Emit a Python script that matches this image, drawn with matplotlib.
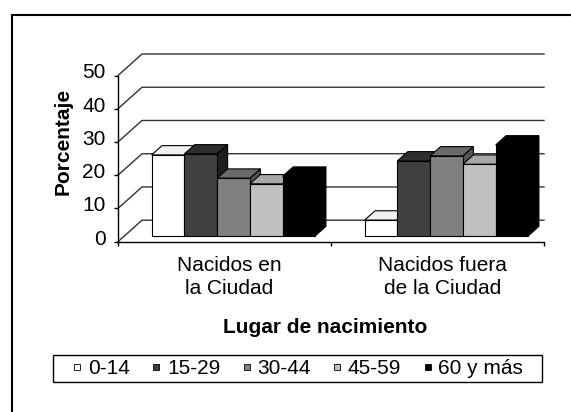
import matplotlib.pyplot as plt
from matplotlib.patches import Polygon, Rectangle
from matplotlib.lines import Line2D
from matplotlib.transforms import ScaledTranslation

# datos (porcentaje por grupo de edad)
categorias = ["Nacidos en\nla Ciudad", "Nacidos fuera\nde la Ciudad"]
grupos = ["0-14", "15-29", "30-44", "45-59", "60 y más"]
nacidos_en = [24.3, 24.6, 17.3, 15.6, 17.9]
nacidos_fuera = [4.7, 22.5, 24.0, 21.5, 27.3]
valores = [nacidos_en, nacidos_fuera]

colores = ["#ffffff", "#404040", "#808080", "#c0c0c0", "#000000"]
colores_top = ["#f0f0f0", "#2e2e2e", "#6a6a6a", "#a8a8a8", "#000000"]
colores_lado = ["#d8d8d8", "#1e1e1e", "#555555", "#999999", "#000000"]

plt.rcParams['font.family'] = ['Liberation Sans', 'DejaVu Sans']
FS = 15

W, H = 571, 412
fig = plt.figure(figsize=(W / 100, H / 100), dpi=100)

# marco exterior (solo se ven lados izquierdo y superior)
fig.add_artist(Rectangle((11.5 / W, -0.1), 2, 1.1 - 15 / H, transform=fig.transFigure,
                         fill=False, edgecolor="black", lw=1.5))

# plano frontal del grafico 3D
x0, x1, y0, y1 = 118, 544, 241.7, 75.5
ax = fig.add_axes([x0 / W, 1 - y0 / H, (x1 - x0) / W, (y0 - y1) / H])
ax.set_xlim(0, 2)
ax.set_ylim(0, 50)
ax.patch.set_visible(False)
for s in ["top", "right"]:
    ax.spines[s].set_visible(False)
for s in ["left", "bottom"]:
    ax.spines[s].set_linewidth(1.0)

ppx = (x1 - x0) / 2
ppy = (y0 - y1) / 50
DX, DY = 24 / ppx, 21.5 / ppy

# pared del fondo y pared izquierda
for v in range(0, 51, 10):
    ax.plot([0, DX, 2], [v, v + DY, v + DY], color="#333333", lw=1.0,
            clip_on=False, zorder=1)

# barras
w = 1 / 6.5
fx, fy = 9 / ppx, 6 / ppy
bdx, bdy = 10.5 / ppx, 9.3 / ppy
for i, vals in enumerate(valores):
    inicio = i + 0.75 * w
    for j, v in enumerate(vals):
        xl = inicio + j * w + fx
        xr = xl + w
        top = fy + v
        z = 3 + j * 0.1
        ax.add_patch(Polygon([(xr, fy), (xr + bdx, fy + bdy), (xr + bdx, top + bdy), (xr, top)],
                             closed=True, facecolor=colores_lado[j], edgecolor="black",
                             lw=0.8, clip_on=False, zorder=z))
        ax.add_patch(Polygon([(xl, top), (xl + bdx, top + bdy), (xr + bdx, top + bdy), (xr, top)],
                             closed=True, facecolor=colores_top[j], edgecolor="black",
                             lw=0.8, clip_on=False, zorder=z))
        ax.bar(xl, v, width=w, bottom=fy, align="edge", color=colores[j],
               edgecolor="black", lw=0.8, clip_on=False, zorder=z + 0.05)

# ejes
ax.set_yticks(range(0, 51, 10))
ax.tick_params(axis="y", length=3, width=1, labelsize=FS, pad=6)
ax.set_xticks([0, 1, 2])
ax.set_xticklabels([])
ax.tick_params(axis="x", which="major", length=3, width=1)
ax.set_xticks([0.5, 1.5], minor=True)
ax.set_xticklabels(categorias, minor=True, fontsize=FS, linespacing=1.25)
ax.tick_params(axis="x", which="minor", length=0, pad=10.5)

for lbl in ax.get_xticklabels(minor=True):
    lbl.set_transform(lbl.get_transform() + ScaledTranslation(5 / 100, 0, fig.dpi_scale_trans))
for lbl in ax.get_yticklabels():
    lbl.set_transform(lbl.get_transform() + ScaledTranslation(0, 4.5 / 100, fig.dpi_scale_trans))

ax.set_xlabel("Lugar de nacimiento", fontsize=FS, fontweight="bold", va="center")
ax.xaxis.set_label_coords((325 - x0) / (x1 - x0), (y0 - 328) / (y0 - y1))
ax.set_ylabel("Porcentaje", fontsize=FS, fontweight="bold", va="center")
ax.yaxis.set_label_coords((63 - x0) / (x1 - x0), (y0 - 141) / (y0 - y1))

# leyenda
fig.add_artist(Rectangle((53.3 / W, 1 - 382.3 / H), (541.7 - 53.3) / W, 27.3 / H,
                         transform=fig.transFigure, fill=False, edgecolor="black", lw=1.0))
handles = [Line2D([], [], marker="s", linestyle="none", markersize=4.5,
                  markerfacecolor=c, markeredgecolor="black", markeredgewidth=0.6)
           for c in colores]
fig.legend(handles, grupos, loc="center", bbox_to_anchor=(298 / W, 1 - 368.7 / H),
           ncol=5, frameon=False, fontsize=FS, handlelength=0.45, handletextpad=0.28,
           columnspacing=1.05, borderpad=0.1)

fig.savefig("out.png", dpi=100)
